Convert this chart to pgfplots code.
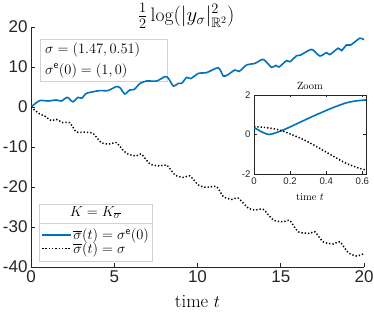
\documentclass[border=0pt]{standalone}
\usepackage{fontspec}
\usepackage{amsmath,amssymb}
\usepackage{pgfplots}
\pgfplotsset{compat=1.18}
\newfontfamily\helv{Liberation Sans}
\definecolor{mblue}{rgb}{0,0.447,0.741}
\definecolor{axgray}{rgb}{0.15,0.15,0.15}
\definecolor{boxgray}{rgb}{0.82,0.82,0.82}

\pgfplotstableread{
t v
0 0
0.52 1.6
1.02 1.5
1.52 1.75
1.82 1.5
2.18 2.4
2.52 1.3
2.82 2.4
3.05 2.2
3.32 3.4
3.72 3.8
4.12 4.1
4.62 4.1
5.12 5.1
5.35 4.8
5.63 3.25
5.93 4.25
6.2 4.4
6.55 5.9
6.95 6.5
7.55 6.5
8.05 7.6
8.25 7.2
8.55 5.25
8.85 5.9
9.05 5.9
9.35 7.4
9.6 7.1
10.05 8.4
10.55 8.6
11.25 9.8
11.55 7.75
11.8 8.0
12.25 9.25
12.5 8.9
12.95 10.5
13.45 10.9
13.95 11.9
14.45 9.9
14.7 10.4
14.9 10.0
15.35 11.6
15.55 11.3
15.95 12.8
16.2 13.0
16.85 14.4
17.35 12.75
17.75 13.6
17.95 13.1
18.45 14.7
18.65 14.1
18.95 15.5
19.2 15.5
19.75 17.2
20 16.8
}\bluemain

\pgfplotstableread{
t v
0 0
0.52 -1.75
0.82 -2.25
1.22 -3.4
1.52 -3.1
1.92 -3.9
2.32 -3.9
2.72 -6.2
3.22 -6.3
3.72 -6.6
4.22 -8.9
4.72 -9.25
5.12 -8.9
5.52 -10.75
5.82 -11.75
6.32 -12.25
6.62 -11.75
7.15 -14.25
7.75 -14.75
8.15 -14.5
8.65 -17
9.15 -17.6
9.55 -17.25
10.05 -19.5
10.55 -20.1
11.15 -19.9
11.55 -22.4
12.05 -23.1
12.45 -22.8
13.05 -25.3
13.45 -25.75
13.95 -25.6
14.55 -28.25
15.15 -28.7
15.55 -28.4
16.05 -31.2
16.75 -31.6
17.05 -31.2
17.55 -33.7
18.15 -34.25
18.55 -33.7
19.05 -36.4
19.55 -37.25
19.95 -36.75
20 -36.9
}\blackmain

\pgfplotstableread{
t v
0 0.35
0.05 0.1
0.085 0.0
0.125 0.1
0.18 0.3
0.25 0.6
0.345 1.0
0.435 1.35
0.51 1.6
0.565 1.7
0.62 1.75
}\blueinset

\pgfplotstableread{
t v
0 0.4
0.067 0.35
0.14 0.23
0.216 -0.03
0.29 -0.33
0.363 -0.7
0.437 -1.09
0.51 -1.46
0.583 -1.71
0.62 -1.8
}\blackinset

\begin{document}
\begin{tikzpicture}[x=1pt,y=1pt]
\path[use as bounding box] (-31,-45) rectangle (343,267);
% legend boxes (behind curves)
\draw[boxgray, fill=white, line width=0.6pt] (9,186) rectangle (136,228);
\node[anchor=west, font=\fontsize{15.3}{16}\selectfont, inner sep=0pt] at (14,217.5) {$\sigma=(1.47,0.51)$};
\node[anchor=west, font=\fontsize{15.3}{16}\selectfont, inner sep=0pt] at (14,196.5) {$\sigma^{\mathsf{e}}(0)=(1,0)$};
\draw[boxgray, fill=white, line width=0.6pt] (8,6) rectangle (121,63);
\draw[boxgray, line width=0.6pt] (8,44) -- (121,44);
\node[font=\fontsize{15.3}{16}\selectfont, inner sep=0pt] at (64.5,54) {$K=K_{\overline{\sigma}}$};

\begin{axis}[
  at={(0pt,0pt)}, anchor=south west, scale only axis,
  width=333pt, height=240pt,
  xmin=0, xmax=20, ymin=-40, ymax=20,
  axis x line*=bottom, axis y line*=left,
  axis line style={axgray, line width=0.6pt, -},
  tick align=inside, major tick length=3.5pt,
  tick style={axgray, line width=0.6pt},
  xtick={0,5,10,15,20}, ytick={-40,-30,-20,-10,0,10,20},
  /pgf/number format/assume math mode=true,
  tick label style={font=\helv\fontsize{17}{17}\selectfont, text=axgray},
  every axis title shift=0pt,
  xlabel={time $t$},
  xlabel style={font=\fontsize{18.7}{20}\selectfont, at={(axis description cs:0.5,-0.1458)}, anchor=center},
  title={$\frac{1}{2}\log(|y_\sigma|^2_{\mathbb{R}^2})$},
  title style={font=\fontsize{19.5}{21}\selectfont, at={(axis description cs:0.466,1.046)}, anchor=center},
  legend style={draw=none, fill=none, at={(axis description cs:0.03,0.176)}, anchor=north west,
    font=\fontsize{15.3}{16}\selectfont, inner sep=0pt, row sep=-2pt,
    nodes={inner sep=1.5pt}, cells={anchor=west}},
]
\addplot[color=mblue, line width=1.6pt, smooth, tension=0.4, forget plot] table[x=t,y=v] {\bluemain};
\addplot[color=black, line width=1.5pt, dash pattern=on 1.3pt off 2pt, smooth, tension=0.4, forget plot] table[x=t,y=v] {\blackmain};
\addlegendimage{empty legend}
\addlegendentry{\hbox{}}
\addlegendimage{legend image code/.code={\draw[mblue, line width=1.6pt, solid] (0pt,0pt) -- (29pt,0pt);}}
\addlegendentry{$\overline{\sigma}(t)=\sigma^{\mathsf{e}}(0)$}
\addlegendimage{legend image code/.code={\draw[black, line width=1.8pt, dash pattern=on 1.5pt off 1.8pt] (0pt,0pt) -- (29pt,0pt);}}
\addlegendentry{$\overline{\sigma}(t)=\sigma$}
\addlegendimage{empty legend}
\addlegendentry{\hbox{}}
\end{axis}

\begin{axis}[
  at={(223pt,93pt)}, anchor=south west, scale only axis,
  width=112pt, height=79pt,
  xmin=0, xmax=0.62, ymin=-2, ymax=2,
  axis background/.style={fill=white},
  axis line style={axgray, line width=0.5pt},
  tick align=inside, tick pos=both, major tick length=2.5pt,
  tick style={axgray, line width=0.5pt},
  xtick={0,0.2,0.4,0.6}, ytick={-2,0,2},
  /pgf/number format/assume math mode=true,
  xticklabel style={/pgf/number format/fixed, /pgf/number format/precision=1},
  tick label style={font=\helv\fontsize{9.6}{10}\selectfont, text=axgray},
  every axis title shift=0pt,
  xlabel={time $t$},
  xlabel style={font=\fontsize{10.5}{11}\selectfont, at={(axis description cs:0.5,-0.29)}, anchor=center},
  title={Zoom},
  title style={font=\fontsize{10.5}{11}\selectfont, at={(axis description cs:0.5,1.114)}, anchor=center},
]
\addplot[color=mblue, line width=1.6pt, smooth, tension=0.5] table[x=t,y=v] {\blueinset};
\addplot[color=black, line width=1.5pt, dash pattern=on 1.3pt off 2pt, smooth, tension=0.5] table[x=t,y=v] {\blackinset};
\end{axis}
\end{tikzpicture}
\end{document}
